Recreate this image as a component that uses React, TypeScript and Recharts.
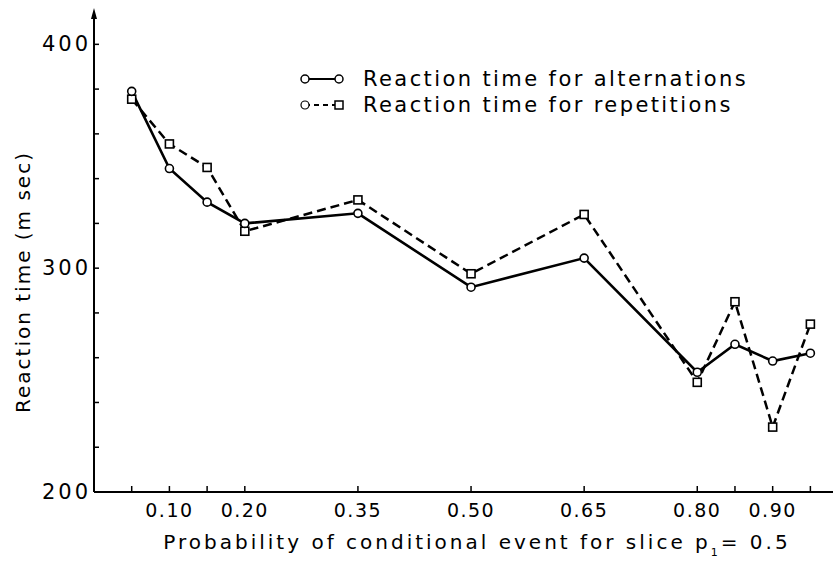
import React from 'react';
import { LineChart, Line, XAxis, YAxis, Legend } from 'recharts';

const probabilities = [0.05, 0.10, 0.15, 0.20, 0.35, 0.50, 0.65, 0.80, 0.85, 0.90, 0.95];
const alternations = [379, 344.5, 329.5, 320, 324.5, 291.5, 304.5, 253.5, 266, 258.5, 262];
const repetitions = [375.5, 355.5, 345, 316.5, 330.5, 297.5, 324, 249, 285, 229, 275];

const xTicks = [0.05, 0.10, 0.15, 0.20, 0.35, 0.50, 0.65, 0.80, 0.85, 0.90, 0.95];
const xTickLabels = [0.10, 0.20, 0.35, 0.50, 0.65, 0.80, 0.90];
const yTicks = [200, 220, 240, 260, 280, 300, 320, 340, 360, 380, 400];
const yTickLabels = [200, 300, 400];

const seriesNames = ['Reaction time for alternations', 'Reaction time for repetitions'];

const data = probabilities.map((p, i) => ({ x: p, alt: alternations[i], rep: repetitions[i] }));

const FONT = '"DejaVu Sans", sans-serif';

const XTick = (props: any) => {
  const { x, y, payload } = props;
  const v = payload.value;
  const labeled = xTickLabels.some((l) => Math.abs(l - v) < 1e-9);
  return (
    <g>
      <line x1={x} y1={y} x2={x} y2={y - 6} stroke="#000" strokeWidth={1.5} />
      {labeled && (
        <text x={x} y={y + 25} textAnchor="middle" fontFamily={FONT} fontSize={19} letterSpacing={1.5} fill="#000">
          {v.toFixed(2)}
        </text>
      )}
    </g>
  );
};

const YTick = (props: any) => {
  const { x, y, payload } = props;
  const v = payload.value;
  const labeled = yTickLabels.includes(v);
  return (
    <g>
      <line x1={x} y1={y} x2={x + 5} y2={y} stroke="#000" strokeWidth={1.5} />
      {labeled && (
        <text x={x - 3} y={y + 7} textAnchor="end" fontFamily={FONT} fontSize={21} letterSpacing={3} fill="#000">
          {v}
        </text>
      )}
    </g>
  );
};

const YLabel = (props: any) => {
  const vb = props.viewBox || { x: 0, y: 13, width: 94, height: 479 };
  const ax = vb.x + vb.width;
  const cx = vb.x + 23;
  const cy = vb.y + 269;
  return (
    <g>
      <path d={`M ${ax} ${vb.y - 5} L ${ax - 3} ${vb.y + 6} L ${ax + 3} ${vb.y + 6} Z`} fill="#000" />
      <text
        x={cx}
        y={cy}
        transform={`rotate(-90 ${cx} ${cy})`}
        textAnchor="middle"
        dominantBaseline="central"
        fontFamily={FONT}
        fontSize={20}
        letterSpacing={2}
        fill="#000"
      >
        Reaction time (m sec)
      </text>
    </g>
  );
};

const XLabel = (props: any) => {
  const vb = props.viewBox || { x: 94, y: 492, width: 739, height: 69 };
  return (
    <text x={477} y={vb.y + 57} textAnchor="middle" fontFamily={FONT} fontSize={20} letterSpacing={3} fill="#000">
      Probability of conditional event for slice p
      <tspan fontSize={11} dy={7}>1</tspan>
      <tspan dy={-7}>= 0.5</tspan>
    </text>
  );
};

const CircleDot = (props: any) => {
  const { cx, cy, index } = props;
  if (cx == null || cy == null) return null;
  return <circle key={`c${index}`} cx={cx} cy={cy} r={4} fill="#fff" stroke="#000" strokeWidth={1.6} />;
};

const SquareDot = (props: any) => {
  const { cx, cy, index } = props;
  if (cx == null || cy == null) return null;
  return <rect key={`s${index}`} x={cx - 4} y={cy - 4} width={8} height={8} fill="#fff" stroke="#000" strokeWidth={1.6} />;
};

const LegendContent = () => (
  <svg width={520} height={60}>
    <line x1={15} y1={17} x2={49} y2={17} stroke="#000" strokeWidth={2} />
    <circle cx={15} cy={17} r={4} fill="#fff" stroke="#000" strokeWidth={1.5} />
    <circle cx={49} cy={17} r={4} fill="#fff" stroke="#000" strokeWidth={1.5} />
    <text x={73} y={24} fontFamily={FONT} fontSize={21} letterSpacing={2.4} fill="#000">{seriesNames[0]}</text>
    <line x1={15} y1={43} x2={49} y2={43} stroke="#000" strokeWidth={2} strokeDasharray="5 4" />
    <circle cx={15} cy={43} r={4} fill="#fff" stroke="#000" strokeWidth={1.2} />
    <rect x={45} y={39} width={8} height={8} fill="#fff" stroke="#000" strokeWidth={1.5} />
    <text x={73} y={50} fontFamily={FONT} fontSize={21} letterSpacing={2.4} fill="#000">{seriesNames[1]}</text>
  </svg>
);

export default function App() {
  return (
    <div style={{ position: 'absolute', left: 0, top: 0, width: 833, height: 561, background: '#fff' }}>
      <LineChart width={833} height={561} data={data} margin={{ top: 13, right: 0, bottom: 0, left: 0 }}>
        <XAxis
          dataKey="x"
          type="number"
          domain={[0, 0.98]}
          ticks={xTicks}
          interval={0}
          allowDataOverflow
          height={69}
          tickSize={0}
          tickMargin={0}
          tickLine={false}
          tick={<XTick />}
          axisLine={{ stroke: '#000', strokeWidth: 2 }}
          label={<XLabel />}
        />
        <YAxis
          type="number"
          domain={[200, 414]}
          ticks={yTicks}
          interval={0}
          allowDataOverflow
          width={94}
          tickSize={0}
          tickMargin={0}
          tickLine={false}
          tick={<YTick />}
          axisLine={{ stroke: '#000', strokeWidth: 2 }}
          label={<YLabel />}
        />
        <Legend
          layout="horizontal"
          verticalAlign="middle"
          align="center"
          content={<LegendContent />}
          wrapperStyle={{ position: 'absolute', left: 290, top: 62, width: 520, height: 60 }}
        />
        <Line
          type="linear"
          dataKey="rep"
          name={seriesNames[1]}
          stroke="#000"
          strokeWidth={2.5}
          strokeDasharray="9 5"
          dot={<SquareDot />}
          isAnimationActive={false}
        />
        <Line
          type="linear"
          dataKey="alt"
          name={seriesNames[0]}
          stroke="#000"
          strokeWidth={2.6}
          dot={<CircleDot />}
          isAnimationActive={false}
        />
      </LineChart>
    </div>
  );
}
